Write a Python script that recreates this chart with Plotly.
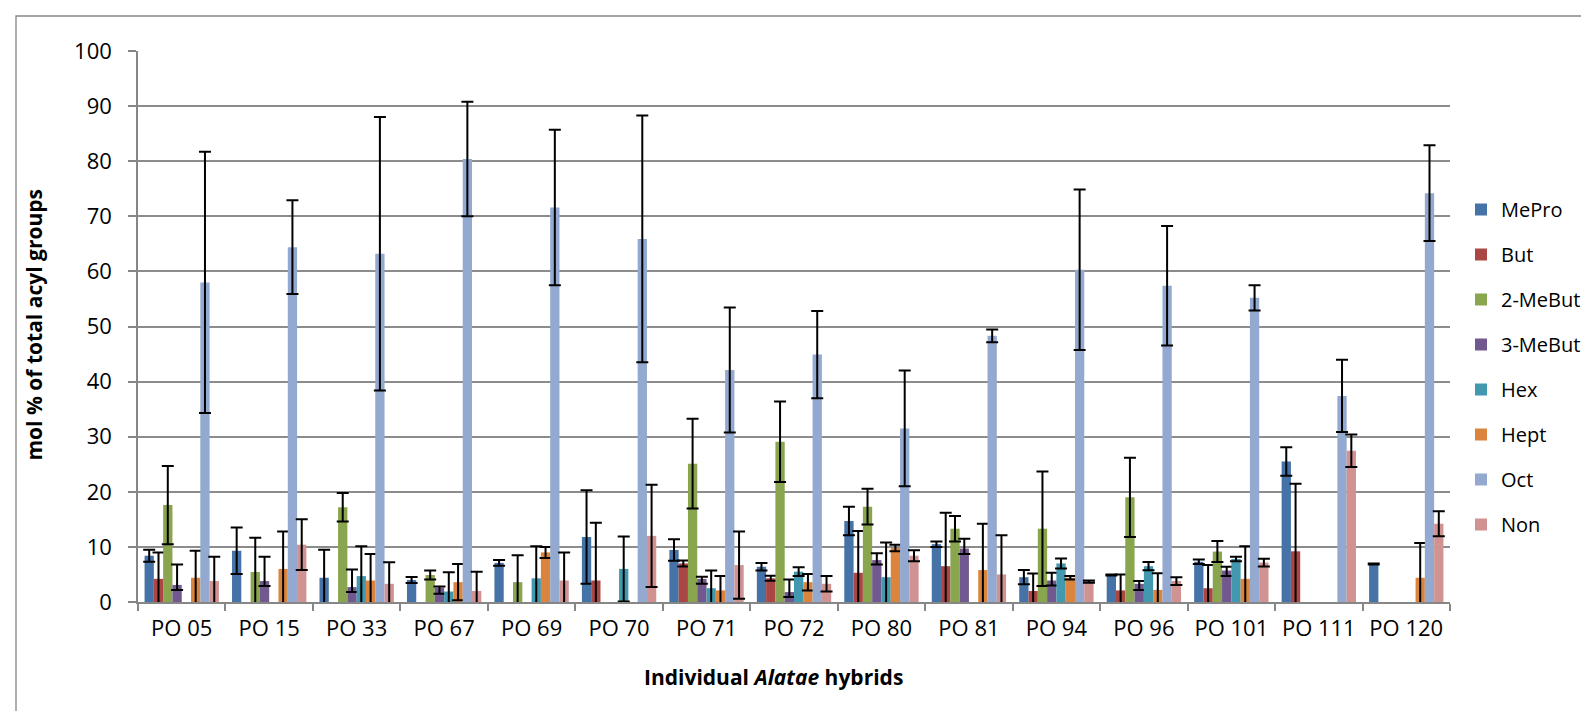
import plotly.graph_objects as go

categories = ["PO 05", "PO 15", "PO 33", "PO 67", "PO 69", "PO 70", "PO 71", "PO 72",
              "PO 80", "PO 81", "PO 94", "PO 96", "PO 101", "PO 111", "PO 120"]

series_names = ["MePro", "But", "2-MeBut", "3-MeBut", "Hex", "Hept", "Oct", "Non"]

mepro = [8.4, 9.3, 4.4, 4.0, 7.1, 11.8, 9.45, 6.4, 14.7, 10.5, 4.5, 4.9, 7.3, 25.5, 6.9]
mepro_err = [1.1, 4.2, 5.1, 0.55, 0.5, 8.5, 1.95, 0.7, 2.6, 0.5, 1.3, 0.1, 0.4, 2.6, 0.1]

but = [4.2, 0, 0, 0, 0, 3.9, 7.0, 4.3, 5.3, 6.5, 2.0, 2.1, 2.5, 9.2, 0]
but_err = [4.8, 0, 0, 0, 0, 10.5, 0.55, 0.45, 7.6, 9.7, 3.15, 2.9, 4.2, 12.25, 0]

mebut2 = [17.6, 5.45, 17.2, 4.9, 3.6, 0, 25.1, 29.1, 17.3, 13.3, 13.3, 19.0, 9.15, 0, 0]
mebut2_err = [7.1, 6.2, 2.6, 0.8, 4.9, 0, 8.15, 7.3, 3.25, 2.3, 10.4, 7.2, 1.9, 0, 0]

mebut3 = [3.1, 3.8, 2.7, 2.6, 0, 0, 4.2, 1.8, 7.6, 9.7, 3.9, 3.3, 5.7, 0, 0]
mebut3_err_up = [3.7, 4.4, 3.2, 0.2, 0, 0, 0.4, 2.3, 1.25, 1.8, 1.4, 0.5, 0.7, 0, 0]
mebut3_err_down = [0.9, 0.9, 0.9, 1.1, 0, 0, 0.9, 0.9, 0.8, 1.0, 0.9, 1.1, 1.0, 0, 0]

hex_ = [0, 0, 4.7, 1.9, 4.3, 6.0, 2.5, 5.5, 4.5, 0, 7.0, 6.5, 7.8, 0, 0]
hex_err = [0, 0, 5.4, 3.5, 5.8, 5.9, 3.2, 0.8, 6.3, 0, 0.9, 0.75, 0.4, 0, 0]

hept = [4.4, 6.0, 3.9, 3.6, 9.0, 0, 2.1, 3.6, 9.8, 5.8, 4.4, 2.2, 4.2, 0, 4.4]
hept_err = [4.9, 6.8, 4.8, 3.3, 1.0, 0, 2.6, 1.5, 0.6, 8.4, 0.3, 3.0, 5.9, 0, 6.3]

oct_ = [58.0, 64.4, 63.2, 80.4, 71.6, 65.9, 42.1, 44.9, 31.5, 48.3, 60.3, 57.4, 55.2, 37.4, 74.2]
oct_err = [23.7, 8.5, 24.8, 10.4, 14.1, 22.4, 11.35, 7.9, 10.5, 1.15, 14.55, 10.85, 2.3, 6.55, 8.7]

non = [3.8, 10.4, 3.3, 2.0, 3.9, 12.0, 6.7, 3.3, 8.4, 5.0, 3.7, 3.8, 7.15, 27.45, 14.2]
non_err = [4.4, 4.6, 3.9, 3.5, 5.1, 9.3, 6.1, 1.4, 1.0, 7.1, 0.2, 0.7, 0.7, 2.95, 2.25]

y_ticks = [0, 10, 20, 30, 40, 50, 60, 70, 80, 90, 100]

colors = ["#4572A7", "#AA4643", "#89A54E", "#71588F", "#4198AF", "#DB843D", "#93A9CF", "#D19392"]

values = [mepro, but, mebut2, mebut3, hex_, hept, oct_, non]
err_up = [mepro_err, but_err, mebut2_err, mebut3_err_up, hex_err, hept_err, oct_err, non_err]
err_down = [mepro_err, but_err, mebut2_err, mebut3_err_down, hex_err, hept_err, oct_err, non_err]

FONT = "Open Sans, Noto Sans, sans-serif"

fig = go.Figure()
for name, vals, up, dn, col in zip(series_names, values, err_up, err_down, colors):
    yv = [v if v != 0 else None for v in vals]
    fig.add_trace(go.Bar(
        name=name, x=categories, y=yv,
        marker=dict(color=col, line=dict(width=0)),
        legendgroup=name,
        error_y=dict(type="data", symmetric=False, array=up, arrayminus=dn,
                     color="black", thickness=2, width=6, visible=True),
    ))

# plot-area pixel geometry
L, R, T, B = 130, 147, 43, 117
W, H = 1589, 711
PW, PH = W - L - R, H - T - B

def px(x):
    return (x - L) / PW

def py(y):
    return (H - B - y) / PH

fig.update_layout(
    width=W, height=H,
    margin=dict(l=L, r=R, t=T, b=B, autoexpand=False),
    paper_bgcolor="white", plot_bgcolor="white",
    barmode="group", bargap=0.15, bargroupgap=0,
    font=dict(family=FONT, size=22, color="black"),
    legend=dict(x=px(1453), y=py(359), xanchor="left", yanchor="middle",
                font=dict(size=20), tracegroupgap=16, itemwidth=30,
                bgcolor="rgba(0,0,0,0)"),
    xaxis=dict(type="category", showgrid=False, showline=True, linecolor="#868686",
               linewidth=1.5, ticks="outside", tickson="boundaries", ticklen=7,
               tickcolor="#868686", tickwidth=1.5, tickfont=dict(size=22),
               ticklabelstandoff=6),
    yaxis=dict(range=[0, 100], tickvals=y_ticks, showgrid=True, gridcolor="#8C8C8C",
               gridwidth=1.5, showline=True, linecolor="#868686", linewidth=1.5,
               ticks="outside", ticklen=8, tickcolor="#868686", tickwidth=1.5,
               tickfont=dict(size=22), zeroline=False, ticklabelstandoff=12),
    annotations=[
        dict(text="<b>Individual <i>Alatae</i> hybrids</b>", x=px(765), y=py(669),
             xref="paper", yref="paper", showarrow=False, font=dict(size=21),
             xanchor="center", yanchor="middle"),
        dict(text="<b>mol % of total acyl groups</b>", x=px(25.5), y=py(317),
             xref="paper", yref="paper", showarrow=False, font=dict(size=21),
             textangle=-90, xanchor="center", yanchor="middle"),
    ],
    shapes=[
        dict(type="rect", xref="paper", yref="paper", x0=px(8), x1=px(1600),
             y0=py(720), y1=py(8), line=dict(color="#868686", width=1.3),
             fillcolor="rgba(0,0,0,0)", layer="below"),
    ],
)

fig.write_html("out.html")
